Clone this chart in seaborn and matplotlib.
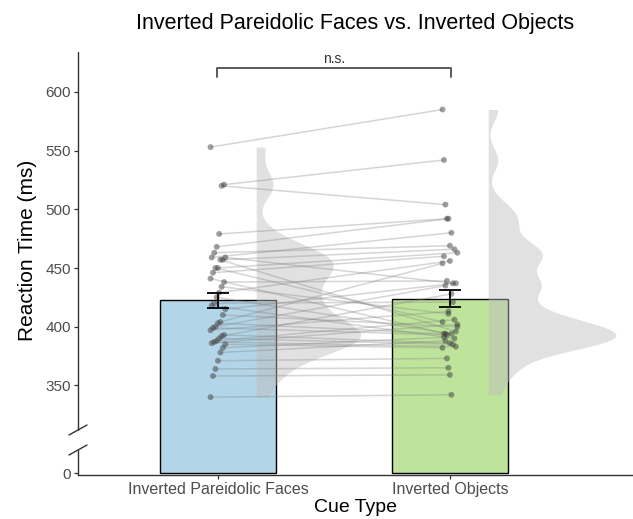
import numpy as np
import pandas as pd
import matplotlib
matplotlib.use("Agg")
import matplotlib.pyplot as plt
import seaborn as sns

# ---------------- data ----------------
categories = ["Inverted Pareidolic Faces", "Inverted Objects"]
bar_means = [422.5, 424.0]
bar_se = [6.5, 7.5]
faces_rt = [553, 521, 520, 479, 468, 463, 459, 459, 457, 457, 450, 450, 446, 441,
            438, 434, 429, 425, 420, 418, 415, 410, 404, 403, 400, 399, 397, 393,
            392, 390, 388, 387, 386, 385, 382, 378, 371, 364, 358, 340]
objects_rt = [585, 542, 504, 492, 492, 469, 480, 437, 466, 396, 463, 404, 460, 394,
              439, 411, 456, 394, 421, 390, 437, 400, 454, 394, 435, 393, 413, 386,
              428, 385, 406, 383, 402, 382, 391, 388, 373, 365, 359, 342]
y_ticks = [0, 350, 400, 450, 500, 550, 600]
bar_colors = ["#B3D5E8", "#BEE49C"]

# ---------------- style ----------------
sns.set_style("ticks")
plt.rcParams["font.family"] = ["Liberation Sans", "DejaVu Sans"]

fig = plt.figure(figsize=(6.33, 5.19), dpi=100)
AX_L, AX_B, AX_W, AX_H = 78 / 633, 44 / 519, 555 / 633, 423 / 519
ax = fig.add_axes([AX_L, AX_B, AX_W, AX_H])

# bars
df_bar = pd.DataFrame({"cue": categories, "rt": bar_means})
sns.barplot(data=df_bar, x="cue", y="rt", hue="cue", palette=bar_colors,
            saturation=1, width=0.5, edgecolor="black", linewidth=1.0,
            errorbar=None, legend=False, ax=ax, zorder=1)

# broken y scale: compress everything below T
T = 312.0
K = 0.1174


def fwd(v):
    v = np.asarray(v, dtype=float)
    return np.where(v >= T, v, T - (T - v) * K)


def inv(u):
    u = np.asarray(u, dtype=float)
    return np.where(u >= T, u, T - (T - u) / K)


ax.set_yscale("function", functions=(fwd, inv))

# half violins (KDE of each condition, trimmed to data range)
groups = [np.array(faces_rt, float), np.array(objects_rt, float)]
bws = [12.0, 10.0]
max_w = [0.45, 0.55]
for i, vals in enumerate(groups):
    grid = np.linspace(vals.min(), vals.max(), 400)
    d = np.exp(-0.5 * ((grid[:, None] - vals[None, :]) / bws[i]) ** 2).sum(1)
    d /= len(vals) * bws[i] * np.sqrt(2 * np.pi)
    x0 = i + 0.165
    ax.fill_betweenx(grid, x0, x0 + d / d.max() * max_w[i], color="#BDBDBD",
                     alpha=0.45, lw=0, zorder=2)

# paired lines and points
n = len(faces_rt)
idx = np.arange(n)
jit_a = (((idx * 37) % 13) - 6) / 6 * 0.032
jit_b = (((idx * 23) % 11) - 5) / 5 * 0.032
xa = 0 + jit_a
xb = 1 + jit_b
for i in range(n):
    ax.plot([xa[i], xb[i]], [faces_rt[i], objects_rt[i]], color="#7F7F7F",
            alpha=0.32, lw=1.1, zorder=3, solid_capstyle="butt")
pts = pd.DataFrame({"x": np.concatenate([xa, xb]),
                    "rt": np.concatenate([faces_rt, objects_rt])})
sns.scatterplot(data=pts, x="x", y="rt", color="#404040", alpha=0.5, s=18,
                edgecolor="none", ax=ax, zorder=4)

# error bars
ax.errorbar([0, 1], bar_means, yerr=bar_se, fmt="none", ecolor="black",
            elinewidth=1.3, capsize=8, capthick=1.3, zorder=5)

ax.set_xlim(-0.603, 1.789)
ax.set_ylim(-14.5, 634)

# axes cosmetics
for s in ["top", "right", "left"]:
    ax.spines[s].set_visible(False)
ax.spines["bottom"].set_color("#333333")
ax.spines["bottom"].set_linewidth(1.0)
ax.set_yticks(y_ticks)
ax.set_yticklabels([str(t) for t in y_ticks])
ax.set_xticks([0, 1])
ax.set_xticklabels(categories)
ax.tick_params(axis="y", length=3, width=0.9, color="#333333", labelsize=11,
               labelcolor="#4D4D4D", pad=2)
ax.tick_params(axis="x", length=3, width=0.9, color="#333333", labelsize=11.5,
               labelcolor="#4D4D4D", pad=2)
ax.set_xlabel("")
ax.set_ylabel("")

# custom broken left spine
w_px, h_px = 555.0, 423.0
upper_frac = ax.transAxes.inverted().transform(ax.transData.transform((0, T)))[1]
lower_frac = upper_frac - 20 / h_px
sc = "#333333"
ax.plot([0, 0], [upper_frac, 1], transform=ax.transAxes, color=sc, lw=1.0,
        clip_on=False, zorder=6)
ax.plot([0, 0], [0, lower_frac], transform=ax.transAxes, color=sc, lw=1.0,
        clip_on=False, zorder=6)
dx, dy = 9 / w_px, 5 / h_px
for yf in (upper_frac, lower_frac):
    ax.plot([-dx, dx], [yf - dy, yf + dy], transform=ax.transAxes, color=sc,
            lw=1.0, clip_on=False, zorder=6)

# significance bracket
ax.plot([-0.004, -0.004, 1.004, 1.004], [613, 620, 620, 613], color="#4D4D4D",
        lw=1.3, clip_on=False, zorder=6)
ax.text(0.5, 622, "n.s.", ha="center", va="bottom", fontsize=10, color="#333333")

# titles / labels
fig.text(355 / 633, 1 - 24 / 519, "Inverted Pareidolic Faces vs. Inverted Objects",
         ha="center", va="center", fontsize=15.5, color="black")
fig.text(28 / 633, 1 - 250 / 519, "Reaction Time (ms)", rotation=90,
         ha="center", va="center", fontsize=15, color="black")
fig.text(355 / 633, 1 - 508 / 519, "Cue Type", ha="center", va="center",
         fontsize=14, color="black")

fig.savefig("out.png", dpi=100)
